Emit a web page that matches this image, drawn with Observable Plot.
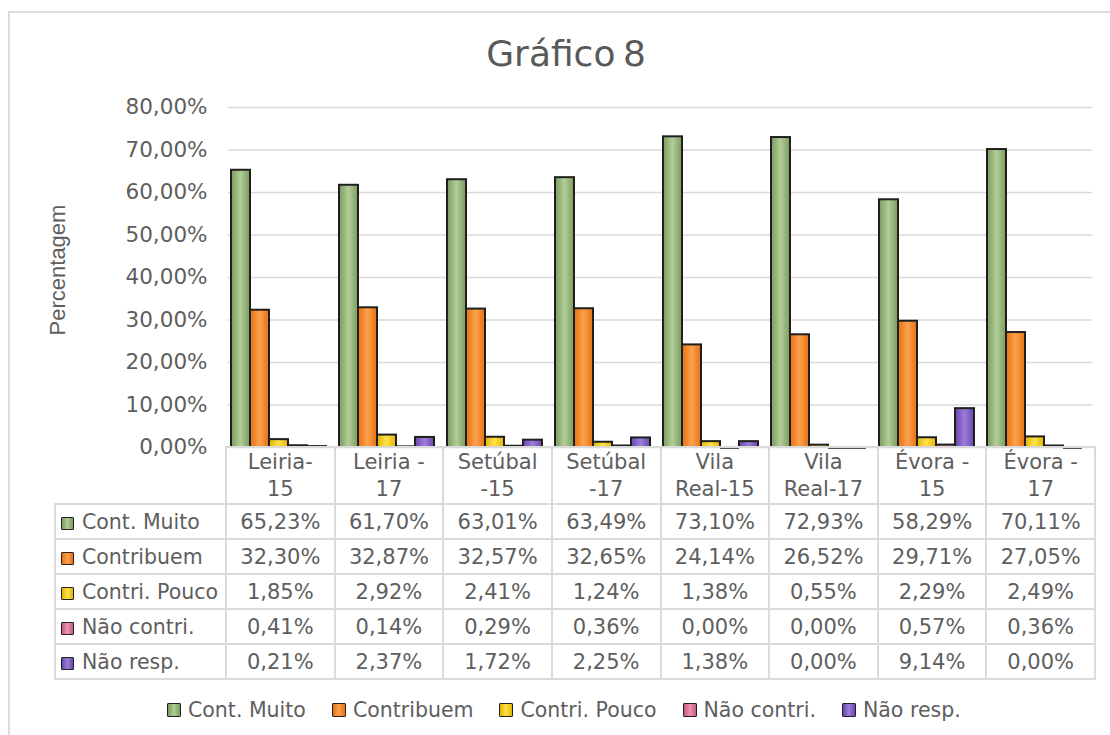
<!DOCTYPE html>
<html>
<head>
<meta charset="utf-8">
<script src="https://cdn.jsdelivr.net/npm/d3@7"></script>
<script src="https://cdn.jsdelivr.net/npm/@observablehq/plot@0.6"></script>
<style>
  html, body { margin: 0; padding: 0; background: #fff; }
  #root { position: relative; width: 1110px; height: 735px; overflow: hidden; font-family: "DejaVu Sans", sans-serif; color: #5e5e5e; }
  #frame { position: absolute; left: 8px; top: 11px; width: 1140px; height: 760px; border: 2px solid #dcdcdc; box-sizing: border-box; }
  #title { position: absolute; left: 0; width: 1132px; top: 32px; text-align: center; font-size: 36px; line-height: 44px; color: #595959; word-spacing: -4px; }
  #chart { position: absolute; left: 0; top: 0; }
  #ylabel { position: absolute; left: 58px; top: 270px; transform: translate(-50%, -50%) rotate(-90deg); font-family: "Liberation Sans", sans-serif; font-size: 22px; white-space: nowrap; color: #5e5e5e; }
  #chart g[aria-label="y-grid"] line { stroke: #d9d9d9; stroke-opacity: 1; stroke-width: 1.5px; }
  #chart g[aria-label="y-axis tick label"] text { fill: #5e5e5e; font-family: "DejaVu Sans", sans-serif; font-size: 21.5px; }
  table#dt { position: absolute; left: 54px; top: 446px; border-collapse: collapse; table-layout: fixed; font-size: 21px; color: #5e5e5e; }
  table#dt td { border: 2px solid #dadada; text-align: center; padding: 0; white-space: nowrap; overflow: hidden; }
  table#dt td.blank { border-top: hidden; border-left: hidden; }
  table#dt tr.head td { height: 55px; line-height: 27px; }
  table#dt tr.row td { height: 33px; }
  table#dt td.lab { text-align: left; padding-left: 5px; font-size: 20.5px; }
  .sw { display: inline-block; width: 11px; height: 11px; border: 1.5px solid #222; border-radius: 1px; vertical-align: -1px; margin-right: 8px; }
  #legend { position: absolute; left: 167px; top: 698px; display: flex; gap: 26px; font-size: 20.5px; white-space: nowrap; color: #5e5e5e; }
  #legend .item { display: flex; align-items: center; }
  #legend .sw { width: 12px; height: 12px; margin-right: 7px; vertical-align: 0; }
</style>
</head>
<body>
<div id="root">
  <div id="frame"></div>
  <div id="title">Gráfico 8</div>
  <div id="chart"></div>
  <div id="ylabel">Percentagem</div>
  <table id="dt"></table>
  <div id="legend"></div>
</div>
<script>
// ---- data ----
const categories = ["Leiria-15", "Leiria -17", "Setúbal -15", "Setúbal -17", "Vila Real-15", "Vila Real-17", "Évora - 15", "Évora - 17"];
const categoryLines = [["Leiria-", "15"], ["Leiria -", "17"], ["Setúbal", "-15"], ["Setúbal", "-17"], ["Vila", "Real-15"], ["Vila", "Real-17"], ["Évora -", "15"], ["Évora -", "17"]];
const seriesNames = ["Cont. Muito", "Contribuem", "Contri. Pouco", "Não contri.", "Não resp."];
const contMuito   = [65.23, 61.70, 63.01, 63.49, 73.10, 72.93, 58.29, 70.11];
const contribuem  = [32.30, 32.87, 32.57, 32.65, 24.14, 26.52, 29.71, 27.05];
const contriPouco = [1.85, 2.92, 2.41, 1.24, 1.38, 0.55, 2.29, 2.49];
const naoContri   = [0.41, 0.14, 0.29, 0.36, 0.00, 0.00, 0.57, 0.36];
const naoResp     = [0.21, 2.37, 1.72, 2.25, 1.38, 0.00, 9.14, 0.00];
const yTicks = [0, 10, 20, 30, 40, 50, 60, 70, 80];

const seriesValues = [contMuito, contribuem, contriPouco, naoContri, naoResp];
// gradient colours: [edge, centre]
const seriesColors = [["#7a9c5c", "#b2cd98"], ["#e9700f", "#fba24e"], ["#e2b400", "#ffe24a"], ["#c85a7d", "#ea94ae"], ["#6945ae", "#9c7dda"]];

const rows = [];
seriesNames.forEach((s, i) => categories.forEach((c, j) => rows.push({cat: c, series: s, value: seriesValues[i][j], si: i})));

const fmt = v => v.toFixed(2).replace(".", ",") + "%";

const marks = [];
seriesNames.forEach((s, i) => {
  marks.push(Plot.barY(rows.filter(d => d.si === i), {
    fx: "cat", x: "series", y: "value",
    fill: `url(#grad${i})`, stroke: "#1f1f1f", strokeWidth: 2
  }));
});
marks.push(Plot.tickY(rows.filter(d => d.value === 0), {fx: "cat", x: "series", y: "value", stroke: "#1f1f1f", strokeWidth: 2.5}));

const chart = Plot.plot({
  width: 1110,
  height: 448,
  marginLeft: 225,
  marginRight: 16,
  marginTop: 107,
  marginBottom: 1,
  style: {fontFamily: "DejaVu Sans", fontSize: "20px", color: "#5e5e5e", background: "transparent", overflow: "visible"},
  fx: {domain: categories, padding: 0, axis: null, label: null},
  x: {domain: seriesNames, axis: null, paddingInner: 0, paddingOuter: 0.3, align: 0.25},
  y: {domain: [0, 80], ticks: yTicks, tickFormat: fmt, tickSize: 0, tickPadding: 21, grid: true, label: null},
  marks
});

// gradients
const NS = "http://www.w3.org/2000/svg";
const defs = document.createElementNS(NS, "defs");
seriesColors.forEach(([edge, mid], i) => {
  const g = document.createElementNS(NS, "linearGradient");
  g.setAttribute("id", `grad${i}`);
  g.setAttribute("x1", "0"); g.setAttribute("x2", "1"); g.setAttribute("y1", "0"); g.setAttribute("y2", "0");
  [[0, edge], [0.5, mid], [1, edge]].forEach(([o, col]) => {
    const st = document.createElementNS(NS, "stop");
    st.setAttribute("offset", o);
    st.setAttribute("stop-color", col);
    g.appendChild(st);
  });
  defs.appendChild(g);
});
chart.insertBefore(defs, chart.firstChild);
document.getElementById("chart").appendChild(chart);

// data table
const table = document.getElementById("dt");
const colgroup = document.createElement("colgroup");
const c0 = document.createElement("col"); c0.style.width = "171px"; colgroup.appendChild(c0);
categories.forEach(() => { const c = document.createElement("col"); c.style.width = "108.625px"; colgroup.appendChild(c); });
table.appendChild(colgroup);
const head = document.createElement("tr"); head.className = "head";
const blank = document.createElement("td"); blank.className = "blank"; head.appendChild(blank);
categoryLines.forEach(lines => { const td = document.createElement("td"); td.innerHTML = lines.join("<br>"); head.appendChild(td); });
table.appendChild(head);
seriesNames.forEach((s, i) => {
  const tr = document.createElement("tr"); tr.className = "row";
  const lab = document.createElement("td"); lab.className = "lab";
  const sw = document.createElement("span"); sw.className = "sw";
  sw.style.background = `linear-gradient(90deg, ${seriesColors[i][0]}, ${seriesColors[i][1]}, ${seriesColors[i][0]})`;
  lab.appendChild(sw); lab.appendChild(document.createTextNode(s));
  tr.appendChild(lab);
  seriesValues[i].forEach(v => { const td = document.createElement("td"); td.textContent = fmt(v); tr.appendChild(td); });
  table.appendChild(tr);
});

// legend
const legend = document.getElementById("legend");
seriesNames.forEach((s, i) => {
  const it = document.createElement("div"); it.className = "item";
  const sw = document.createElement("span"); sw.className = "sw";
  sw.style.background = `linear-gradient(90deg, ${seriesColors[i][0]}, ${seriesColors[i][1]}, ${seriesColors[i][0]})`;
  it.appendChild(sw); it.appendChild(document.createTextNode(s));
  legend.appendChild(it);
});
</script>
</body>
</html>
